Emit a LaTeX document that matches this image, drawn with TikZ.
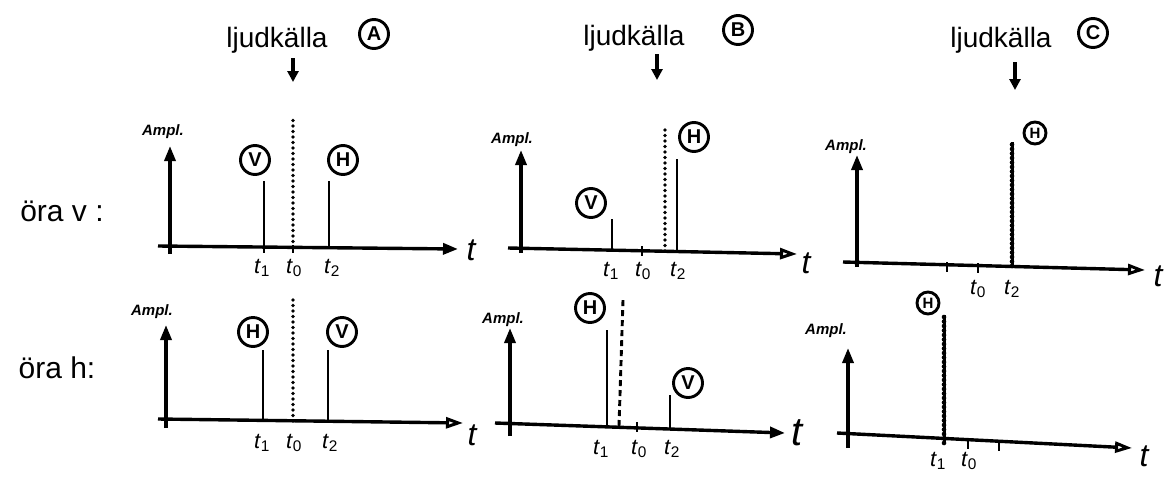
\documentclass[tikz,border=0pt]{standalone}
\usepackage{fontspec}
\setmainfont{Liberation Sans}
\usetikzlibrary{arrows.meta}
\newcommand{\tl}[1]{\textit{t}\textsubscript{#1}}
\begin{document}
\begin{tikzpicture}[x=1pt,y=-1pt,
    axis/.style={line width=3.4pt,-{Triangle[length=15pt,width=11pt]}},
    axisopen/.style={line width=3.4pt,-{Triangle[open,length=17pt,width=11pt,line width=3pt]}},
    spike/.style={line width=2.9pt},
    beads/.style={line width=3pt,postaction={draw,line width=4.6pt,line cap=round,dash pattern=on 0pt off 4.5pt}},
    srcline/.style={line width=3.8pt,line cap=round,dash pattern=on 0pt off 5.5pt},
    srcdash/.style={line width=2.9pt,dash pattern=on 6pt off 4pt},
    tick/.style={line width=2.5pt},
    circ/.style={draw,circle,line width=2.9pt,inner sep=0pt,minimum size=29pt,font=\bfseries\fontsize{20}{20}\selectfont},
    circs/.style={circ,minimum size=22pt,font=\bfseries\fontsize{15}{15}\selectfont},
    src/.style={font=\fontsize{28}{28}\selectfont},
    down/.style={line width=3.2pt,-{Triangle[length=11pt,width=11pt]}},
    amp/.style={font=\bfseries\itshape\fontsize{15}{15}\selectfont},
    tlab/.style={font=\fontsize{22}{22}\selectfont},
    tbig/.style={font=\itshape\fontsize{32}{32}\selectfont},
    row/.style={font=\fontsize{30}{30}\selectfont}]
\useasboundingbox (0,0) rectangle (1167,477);

% Ljudkallor
\node[src] (srcA) at (277,40) {ljudkälla};
\node[circ] (cA) at (374,34) {A};
\coordinate (dA1) at (293,58); \coordinate (dA2) at (293,82);
\draw[down] (dA1) -- (dA2);
\node[src] (srcB) at (634,38) {ljudkälla};
\node[circ] (cB) at (738,30) {B};
\coordinate (dB1) at (657,54); \coordinate (dB2) at (657,80);
\draw[down] (dB1) -- (dB2);
\node[src] (srcC) at (1001,40) {ljudkälla};
\node[circ] (cC) at (1093,33) {C};
\coordinate (dC1) at (1015,62); \coordinate (dC2) at (1015,90);
\draw[down] (dC1) -- (dC2);

% Radetiketter
\node[row] (oraV) at (62,211) {öra v :};
\node[row] (oraH) at (57,368) {öra h:};

% A, ora v
\coordinate (aL) at (158,246); \coordinate (aR) at (458,249);
\coordinate (aB) at (170,254); \coordinate (aT) at (170,146);
\draw[axis] (aB) -- (aT);
\draw[axis] (aL) -- (aR);
\node[amp] (ampA) at (163,132) {Ampl.};
\coordinate (aV1) at (264,247); \coordinate (aV2) at (264,181);
\coordinate (aH1) at (329,247); \coordinate (aH2) at (329,181);
\coordinate (aS1) at (293,247); \coordinate (aS2) at (293,118);
\draw[spike] (aV1) -- (aV2);
\draw[spike] (aH1) -- (aH2);
\draw[srcline] (aS1) -- (aS2);
\draw[tick] (264,245) -- (264,253) (293,245) -- (293,253);
\node[circ] (aVc) at (255,160) {V};
\node[circ] (aHc) at (343,160) {H};
\node[tlab] (aT1) at (262,268) {\tl{1}};
\node[tlab] (aT0) at (294,268) {\tl{0}};
\node[tlab] (aT2) at (332,268) {\tl{2}};
\node[tbig] (at) at (471,250) {t};

% A, ora h
\coordinate (bL) at (158,419); \coordinate (bR) at (463,423);
\coordinate (bB) at (166,428); \coordinate (bT) at (166,325);
\draw[axis] (bB) -- (bT);
\draw[axisopen] (bL) -- (bR);
\node[amp] (ampB) at (152,312) {Ampl.};
\coordinate (bH1) at (263,420); \coordinate (bH2) at (263,350);
\coordinate (bV1) at (328,421); \coordinate (bV2) at (328,350);
\coordinate (bS1) at (293,421); \coordinate (bS2) at (293,295);
\draw[spike] (bH1) -- (bH2);
\draw[spike] (bV1) -- (bV2);
\draw[srcline] (bS1) -- (bS2);
\node[circ] (bHc) at (253,332) {H};
\node[circ] (bVc) at (342,332) {V};
\node[tlab] (bT1) at (262,443) {\tl{1}};
\node[tlab] (bT0) at (294,443) {\tl{0}};
\node[tlab] (bT2) at (330,443) {\tl{2}};
\node[tbig] (bt) at (472,435) {t};

% B, ora v
\coordinate (cL) at (508,248); \coordinate (cR) at (797,254);
\coordinate (cB) at (521,253); \coordinate (cT) at (521,150);
\draw[axis] (cB) -- (cT);
\draw[axisopen] (cL) -- (cR);
\node[amp] (ampC) at (512,140) {Ampl.};
\coordinate (cV1) at (612,250); \coordinate (cV2) at (612,219);
\coordinate (cH1) at (677,251); \coordinate (cH2) at (677,159);
\coordinate (cS1) at (665,251); \coordinate (cS2) at (665,125);
\draw[spike] (cV1) -- (cV2);
\draw[spike] (cH1) -- (cH2);
\draw[srcline] (cS1) -- (cS2);
\draw[tick] (642,246) -- (642,256);
\node[circ] (cVc) at (591,203) {V};
\node[circ] (cHc) at (694,137) {H};
\node[tlab] (cT1) at (611,271) {\tl{1}};
\node[tlab] (cT0) at (643,271) {\tl{0}};
\node[tlab] (cT2) at (678,271) {\tl{2}};
\node[tbig] (ct) at (806,263) {t};

% B, ora h
\coordinate (dL) at (495,423); \coordinate (dR) at (785,433);
\coordinate (dB) at (510,436); \coordinate (dT) at (510,328);
\draw[axis] (dB) -- (dT);
\draw[axis] (dL) -- (dR);
\node[amp] (ampD) at (503,320) {Ampl.};
\coordinate (dH1) at (607,426); \coordinate (dH2) at (607,330);
\coordinate (dV1) at (670,429); \coordinate (dV2) at (670,395);
\coordinate (dS1) at (619,426); \coordinate (dS2) at (623,300);
\draw[spike] (dH1) -- (dH2);
\draw[spike] (dV1) -- (dV2);
\draw[srcdash] (dS1) -- (dS2);
\draw[tick] (637,422) -- (637,432);
\node[circ] (dHc) at (590,308) {H};
\node[circ] (dVc) at (688,383) {V};
\node[tlab] (dT1) at (601,449) {\tl{1}};
\node[tlab] (dT0) at (639,449) {\tl{0}};
\node[tlab] (dT2) at (672,449) {\tl{2}};
\node[tbig,font=\itshape\fontsize{40}{40}\selectfont] (dt) at (797,433) {t};

% C, ora v
\coordinate (eL) at (843,262); \coordinate (eR) at (1145,270);
\coordinate (eB) at (857,267); \coordinate (eT) at (857,155);
\draw[axis] (eB) -- (eT);
\draw[axisopen] (eL) -- (eR);
\node[amp] (ampE) at (846,147) {Ampl.};
\coordinate (eH1) at (1012,266); \coordinate (eH2) at (1012,142);
\draw[beads] (eH1) -- (eH2);
\draw[tick] (947,262) -- (947,272) (978,263) -- (978,273);
\node[circs] (eHc) at (1035,133) {H};
\node[tlab] (eT0) at (978,289) {\tl{0}};
\node[tlab] (eT2) at (1012,289) {\tl{2}};
\node[tbig] (et) at (1158,276) {t};

% C, ora h
\coordinate (fL) at (837,433); \coordinate (fR) at (1132,448);
\coordinate (fB) at (848,448); \coordinate (fT) at (848,348);
\draw[axis] (fB) -- (fT);
\draw[axisopen] (fL) -- (fR);
\node[amp] (ampF) at (826,331) {Ampl.};
\coordinate (fH1) at (944,443); \coordinate (fH2) at (944,315);
\draw[beads] (fH1) -- (fH2);
\draw[tick] (968,439) -- (968,449) (999,441) -- (999,451);
\node[circs] (fHc) at (928,303) {H};
\node[tlab] (fT1) at (938,461) {\tl{1}};
\node[tlab] (fT0) at (969,461) {\tl{0}};
\node[tbig] (ft) at (1144,456) {t};
\end{tikzpicture}
\end{document}
